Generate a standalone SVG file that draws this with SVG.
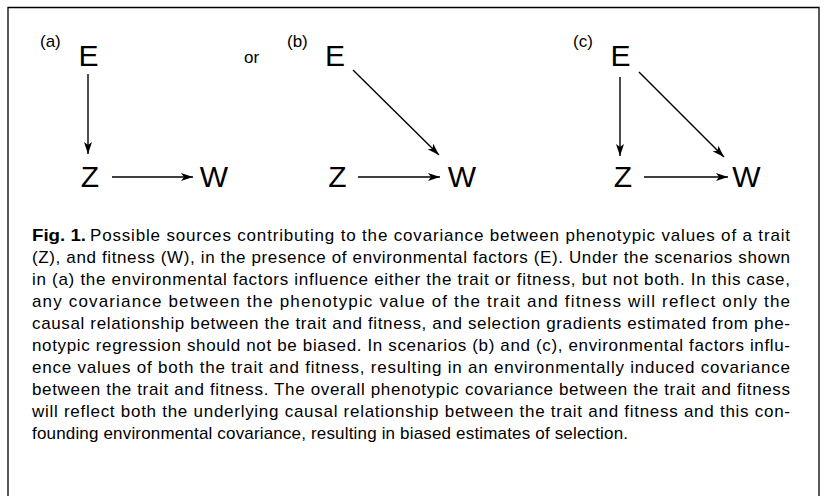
<svg xmlns="http://www.w3.org/2000/svg" width="825" height="496" viewBox="0 0 825 496">
<defs>
<style>
.lbl{font-family:"Liberation Sans",Arial,sans-serif;font-size:17px;fill:#000}
.node{font-family:"Liberation Sans",Arial,sans-serif;font-size:30px;fill:#000;text-anchor:middle}
.cap{font-family:"Liberation Sans",Arial,sans-serif;font-size:17px;fill:#000}
.b{font-weight:bold}
.edge{stroke:#000;stroke-width:1.4;fill:none;marker-end:url(#ah)}
</style>
<marker id="ah" viewBox="0 0 12 8" refX="12" refY="4" markerWidth="12" markerHeight="8" markerUnits="userSpaceOnUse" orient="auto">
<path d="M0,0 L12,4 L0,8 L3,4 Z" fill="#000"/>
</marker>
</defs>
<rect width="825" height="496" fill="#fff"/>
<path d="M8,500 L8,7.5 L819,7.5 L819,500" fill="none" stroke="#000" stroke-width="1.3"/>

<text class="lbl" x="40" y="47">(a)</text>
<text class="lbl" x="244" y="63">or</text>
<text class="lbl" x="287" y="47">(b)</text>
<text class="lbl" x="573" y="47">(c)</text>

<g id="a-E"><text class="node" x="88.5" y="66">E</text></g>
<g id="a-Z"><text class="node" x="90" y="187">Z</text></g>
<g id="a-W"><text class="node" x="214" y="187">W</text></g>
<g id="b-E"><text class="node" x="335" y="66">E</text></g>
<g id="b-Z"><text class="node" x="337.5" y="187">Z</text></g>
<g id="b-W"><text class="node" x="462" y="187">W</text></g>
<g id="c-E"><text class="node" x="620.5" y="66">E</text></g>
<g id="c-Z"><text class="node" x="623" y="187">Z</text></g>
<g id="c-W"><text class="node" x="746.5" y="187">W</text></g>

<g id="connectors">
<line class="edge" x1="88" y1="74" x2="88" y2="154"/>
<line class="edge" x1="112" y1="177" x2="193" y2="177"/>
<line class="edge" x1="353" y1="70" x2="439" y2="155"/>
<line class="edge" x1="358" y1="177" x2="440" y2="177"/>
<line class="edge" x1="620" y1="77" x2="620" y2="156"/>
<line class="edge" x1="639" y1="72" x2="724" y2="157"/>
<line class="edge" x1="644" y1="177" x2="728" y2="177"/>
</g>

<g id="caption">
<text class="cap b" x="32" y="241" textLength="54" lengthAdjust="spacingAndGlyphs">Fig. 1.</text>
<text class="cap" x="90" y="241" textLength="700" lengthAdjust="spacing">Possible sources contributing to the covariance between phenotypic values of a trait</text>
<text class="cap" x="32" y="263" textLength="758" lengthAdjust="spacing">(Z), and fitness (W), in the presence of environmental factors (E). Under the scenarios shown</text>
<text class="cap" x="32" y="285" textLength="758" lengthAdjust="spacing">in (a) the environmental factors influence either the trait or fitness, but not both. In this case,</text>
<text class="cap" x="32" y="307" textLength="758" lengthAdjust="spacing">any covariance between the phenotypic value of the trait and fitness will reflect only the</text>
<text class="cap" x="32" y="329" textLength="758" lengthAdjust="spacing">causal relationship between the trait and fitness, and selection gradients estimated from phe-</text>
<text class="cap" x="32" y="351" textLength="758" lengthAdjust="spacing">notypic regression should not be biased. In scenarios (b) and (c), environmental factors influ-</text>
<text class="cap" x="32" y="373" textLength="758" lengthAdjust="spacing">ence values of both the trait and fitness, resulting in an environmentally induced covariance</text>
<text class="cap" x="32" y="395" textLength="758" lengthAdjust="spacing">between the trait and fitness. The overall phenotypic covariance between the trait and fitness</text>
<text class="cap" x="32" y="417" textLength="758" lengthAdjust="spacing">will reflect both the underlying causal relationship between the trait and fitness and this con-</text>
<text class="cap" x="32" y="439" textLength="596" lengthAdjust="spacing">founding environmental covariance, resulting in biased estimates of selection.</text>
</g>
</svg>
